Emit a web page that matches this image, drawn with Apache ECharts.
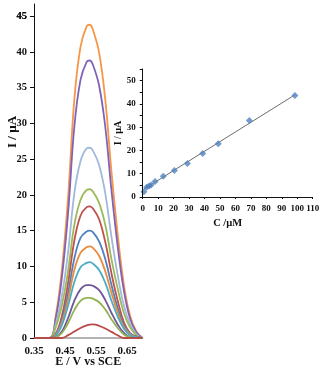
<!DOCTYPE html>
<html>
<head>
<meta charset="utf-8">
<script src="https://cdn.jsdelivr.net/npm/echarts@6/dist/echarts.min.js"></script>
<style>
  html, body { margin: 0; padding: 0; background: #fff; }
  #chart { width: 326px; height: 368px; }
</style>
</head>
<body>
<div id="chart"></div>
<script>
// potential (V vs SCE) sampled along each voltammogram
const potentials = [0.35, 0.40, 0.42, 0.44, 0.46, 0.48, 0.50, 0.52, 0.53, 0.54, 0.56, 0.58, 0.60, 0.62, 0.64, 0.66, 0.68, 0.70]

// currents (µA), tallest curve first
const curve1 = [0, 0, 3.1, 9.6, 19.7, 33.3, 40.7, 43.6, 43.8, 43.1, 39.9, 33.3, 23.2, 14.5, 7.4, 3.1, 0.9, 0]
const curve2 = [0, 0, 2.7, 8.5, 17.5, 29.5, 36.1, 38.6, 38.8, 38.2, 35.3, 29.5, 20.6, 12.8, 6.6, 2.7, 0.8, 0]
const curve3 = [0, 0, 1.9, 5.9, 12.0, 20.2, 24.7, 26.5, 26.6, 26.2, 24.2, 20.2, 14.1, 8.8, 4.5, 1.9, 0.5, 0]
const curve4 = [0, 0, 1.5, 4.6, 9.4, 15.8, 19.3, 20.7, 20.8, 20.5, 18.9, 15.8, 11.0, 6.9, 3.5, 1.5, 0.4, 0]
const curve5 = [0, 0, 0.6, 3.1, 7.7, 13.6, 17.1, 18.3, 18.4, 18.1, 16.6, 13.4, 9.0, 5.2, 2.2, 0.7, 0.2, 0]
const curve6 = [0, 0, 0.5, 2.6, 6.3, 11.1, 14.0, 14.9, 15.0, 14.8, 13.5, 11.0, 7.4, 4.2, 1.8, 0.6, 0.2, 0]
const curve7 = [0, 0, 0.4, 2.2, 5.4, 9.5, 11.9, 12.7, 12.8, 12.6, 11.5, 9.3, 6.3, 3.6, 1.5, 0.5, 0.1, 0]
const curve8 = [0, 0, 0.3, 1.8, 4.5, 7.8, 9.9, 10.5, 10.6, 10.4, 9.5, 7.7, 5.2, 3.0, 1.3, 0.4, 0.1, 0]
const curve9 = [0, 0, 0.1, 0.9, 2.8, 5.2, 6.8, 7.4, 7.4, 7.3, 6.7, 5.3, 3.5, 1.9, 0.7, 0.1, 0, 0]
const curve10 = [0, 0, 0.1, 0.7, 2.1, 3.9, 5.2, 5.6, 5.6, 5.5, 5.0, 4.0, 2.6, 1.4, 0.5, 0.1, 0, 0]
const curve11 = [0, 0, 0, 0, 0.4, 0.9, 1.4, 1.77, 1.88, 1.9, 1.71, 1.33, 0.86, 0.38, 0, 0, 0, 0]

const curves = [curve1, curve2, curve3, curve4, curve5, curve6, curve7, curve8, curve9, curve10, curve11]
const curveColors = ['#F79646', '#7F63B8', '#A3B8DA', '#9BBB59', '#C0504D', '#4F81BD', '#E98A3E', '#4BACC6', '#6F5599', '#93B352', '#B84A47']

// tick labels
const eTicks = [0.35, 0.45, 0.55, 0.65]
const iTicks = [0, 5, 10, 15, 20, 25, 30, 35, 40, 45]
const iTopTick = [45]
const cTicks = [0, 10, 20, 30, 40, 50, 60, 70, 80, 90, 100, 110]
const insetITicks = [0, 10, 20, 30, 40, 50]
const insetIMinor = [0, 5, 10, 15, 20, 25, 30, 35, 40, 45, 50, 55]

// calibration inset
const concentrations = [0.8, 2.6, 4.1, 5.4, 8.0, 13.3, 20.5, 28.9, 38.8, 48.9, 69, 98.5]
const peakCurrents = [2.3, 4.2, 4.7, 5.2, 6.7, 8.9, 11.4, 14.4, 18.7, 22.9, 32.9, 43.6]
const fitLine = [[0.8, 3.4], [98.5, 43.9]]

const font = 'Liberation Serif'
const chart = echarts.init(document.getElementById('chart'))

const curveSeries = curves.map((c, i) => ({
  type: 'line',
  xAxisIndex: 0,
  yAxisIndex: 0,
  smooth: 0.4,
  showSymbol: false,
  silent: true,
  z: 2 + i,
  lineStyle: { color: curveColors[i], width: 1.8 },
  data: potentials.map((e, k) => [e, c[k]])
}))

const yLabelStyle = { margin: 7, fontFamily: font, fontWeight: 'bold', fontSize: 10.5, color: '#111' }

chart.setOption({
  animation: false,
  backgroundColor: '#fff',
  grid: [
    { left: 34, right: 183.5, top: 4, bottom: 30, outerBoundsMode: 'none' },
    { left: 142.7, right: 13.3, top: 69, bottom: 171, outerBoundsMode: 'none' }
  ],
  xAxis: [{
    gridIndex: 0,
    type: 'value',
    min: 0.35,
    max: 0.70,
    name: 'E / V vs SCE',
    nameLocation: 'middle',
    nameGap: 18,
    nameMoveOverlap: false,
    nameTextStyle: { fontFamily: font, fontWeight: 'bold', fontSize: 12, color: '#111' },
    axisLine: { lineStyle: { color: '#9a9a9a', width: 1.5 } },
    axisTick: { show: false },
    splitLine: { show: false },
    axisLabel: {
      margin: 8, customValues: eTicks,
      formatter: v => v.toFixed(2),
      fontFamily: font, fontWeight: 'bold', fontSize: 11, color: '#111'
    }
  }, {
    gridIndex: 1,
    type: 'value',
    min: 0,
    max: 110,
    z: 30,
    name: 'C /µM',
    nameLocation: 'middle',
    nameGap: 21,
    nameMoveOverlap: false,
    nameTextStyle: { fontFamily: font, fontWeight: 'bold', fontSize: 10.5, color: '#111' },
    axisLine: { lineStyle: { color: '#111', width: 1 } },
    axisTick: { show: true, length: 2, customValues: cTicks, lineStyle: { color: '#111' } },
    splitLine: { show: false },
    axisLabel: {
      margin: 7, customValues: cTicks,
      fontFamily: font, fontWeight: 'bold', fontSize: 9, color: '#111'
    }
  }],
  yAxis: [{
    gridIndex: 0,
    type: 'value',
    min: 0,
    max: 46.7,
    axisLine: { show: true, lineStyle: { color: '#111', width: 1 } },
    axisTick: { show: true, length: 4, customValues: iTicks, lineStyle: { color: '#111' } },
    splitLine: { show: false },
    axisLabel: Object.assign({ customValues: iTicks, showMaxLabel: true, hideOverlap: false }, yLabelStyle)
  }, {
    gridIndex: 1,
    type: 'value',
    min: 0,
    max: 55,
    z: 30,
    name: 'I / µA',
    nameLocation: 'middle',
    nameGap: 19,
    nameMoveOverlap: false,
    nameTextStyle: { fontFamily: font, fontWeight: 'bold', fontSize: 10, color: '#111' },
    axisLine: { show: true, lineStyle: { color: '#111', width: 1 } },
    axisTick: { show: true, length: 3, customValues: insetIMinor, lineStyle: { color: '#111' } },
    splitLine: { show: false },
    axisLabel: {
      margin: 7, customValues: insetITicks,
      fontFamily: font, fontWeight: 'bold', fontSize: 9, color: '#111'
    }
  }, {
    // same scale as the main current axis, carries only the top label
    gridIndex: 0,
    type: 'value',
    position: 'left',
    min: 0,
    max: 46.7,
    axisLine: { show: false },
    axisTick: { show: false },
    splitLine: { show: false },
    axisLabel: Object.assign({ customValues: iTopTick }, yLabelStyle)
  }],
  graphic: [{
    type: 'text',
    x: 6,
    y: 148,
    rotation: Math.PI / 2,
    style: {
      text: 'I / µA',
      font: 'bold 13px "Liberation Serif"',
      fill: '#111'
    }
  }],
  series: curveSeries.concat([{
    type: 'line',
    xAxisIndex: 1,
    yAxisIndex: 1,
    showSymbol: false,
    silent: true,
    z: 20,
    lineStyle: { color: '#6d6d6d', width: 1 },
    data: fitLine
  }, {
    type: 'scatter',
    xAxisIndex: 1,
    yAxisIndex: 1,
    symbol: 'diamond',
    symbolSize: 7,
    z: 21,
    itemStyle: { color: '#4F81BD' },
    data: concentrations.map((c, i) => [c, peakCurrents[i]])
  }])
})
</script>
</body>
</html>
